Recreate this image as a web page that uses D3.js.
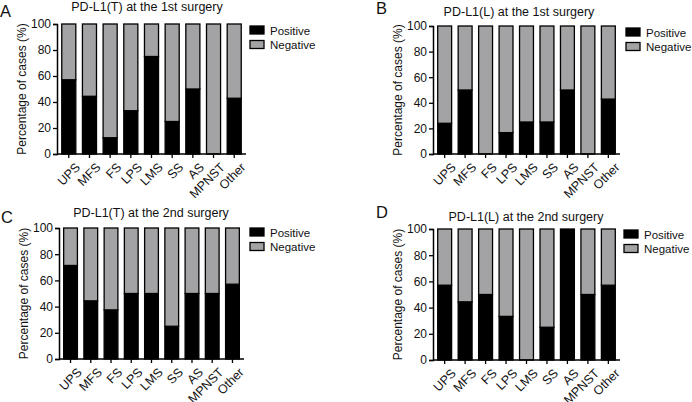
<!DOCTYPE html>
<html><head><meta charset="utf-8">
<script src="https://cdn.jsdelivr.net/npm/d3@7"></script>
<style>
html,body{margin:0;padding:0;background:#fff;}
text{font-family:"Liberation Sans",Arial,Helvetica,sans-serif;fill:#111;}
</style></head>
<body>
<svg id="chart" width="692" height="402"></svg>
<script>
// ---- data ----
const categories = ["UPS","MFS","FS","LPS","LMS","SS","AS","MPNST","Other"];
const positiveA = [57.1, 44.4, 12.5, 33.3, 75, 25, 50, 0, 42.9];
const positiveB = [24, 50, 0, 16.7, 25, 25, 50, 0, 42.9];
const positiveC = [71.4, 44.4, 37.5, 50, 50, 25, 50, 50, 57.1];
const positiveD = [57.1, 44.4, 50, 33.3, 0, 25, 100, 50, 57.1];
const titles = ["PD-L1(T) at the 1st surgery","PD-L1(L) at the 1st surgery","PD-L1(T) at the 2nd surgery","PD-L1(L) at the 2nd surgery"];
const letters = ["A","B","C","D"];
const seriesNames = ["Positive","Negative"];
const yTicks = [0,20,40,60,80,100];
const yLabel = "Percentage of cases (%)";

// ---- layout (positions only) ----
const layout = [
  {ax:57, xe:246, yt:24, yb:154, lx:0, ly:17, tx:147, ty:11, legX:250, legY:30},
  {ax:433, xe:620, yt:26, yb:154, lx:376, ly:14, tx:519, ty:16, legX:626, legY:32},
  {ax:59, xe:244, yt:228, yb:359, lx:1, ly:223, tx:151, ty:217, legX:250, legY:232},
  {ax:433, xe:620, yt:229, yb:360, lx:376, ly:218, tx:526, ty:221, legX:624, legY:234}
];
const allPositive = [positiveA, positiveB, positiveC, positiveD];
const colors = {Positive:"#000000", Negative:"#a3a3a5"};

const svg = d3.select("#chart");

allPositive.forEach((pos, i) => {
  const L = layout[i];
  const rows = categories.map((c, j) => ({cat:c, Positive:pos[j], Negative:100 - pos[j]}));
  const stack = d3.stack().keys(seriesNames)(rows);
  const x = d3.scaleBand().domain(categories).range([L.ax, L.xe]).paddingInner(0.32).paddingOuter(0.23);
  const y = d3.scaleLinear().domain([0,100]).range([L.yb, L.yt]);
  const g = svg.append("g");

  // bars
  stack.forEach(s => {
    g.append("g").selectAll("rect").data(s).join("rect")
      .attr("x", d => x(d.data.cat))
      .attr("width", x.bandwidth())
      .attr("y", d => y(d[1]))
      .attr("height", d => Math.max(0, y(d[0]) - y(d[1])))
      .attr("fill", colors[s.key])
      .attr("stroke", "#000")
      .attr("stroke-width", 1.3);
  });

  // y axis
  const ya = g.append("g").attr("transform", `translate(${L.ax},0)`)
    .call(d3.axisLeft(y).tickValues(yTicks).tickSize(4).tickPadding(2));
  ya.select(".domain").attr("stroke", "#000").attr("stroke-width", 1.5);
  ya.selectAll(".tick line").attr("stroke", "#000").attr("stroke-width", 1.3);
  ya.selectAll("text").attr("font-size", 12).attr("fill", "#111");

  // x axis
  const xa = g.append("g").attr("transform", `translate(0,${L.yb})`)
    .call(d3.axisBottom(x).tickSize(4).tickSizeOuter(0));
  xa.select(".domain").attr("stroke", "#000").attr("stroke-width", 1.5)
    .attr("d", `M${L.ax},0H${L.xe}`);
  xa.selectAll(".tick line").attr("stroke", "#000").attr("stroke-width", 1.3);
  xa.selectAll("text").attr("font-size", 12.5).attr("fill", "#111")
    .attr("text-anchor", "end")
    .attr("dy", "0.35em")
    .attr("transform", "translate(4,6) rotate(-45)");

  // y label
  g.append("text")
    .attr("transform", `translate(${L.ax - 31},${(L.yt + L.yb) / 2}) rotate(-90)`)
    .attr("text-anchor", "middle")
    .attr("font-size", 12)
    .text(yLabel);

  // title
  g.append("text").attr("x", L.tx).attr("y", L.ty)
    .attr("text-anchor", "middle").attr("font-size", 12.5).text(titles[i]);

  // panel letter
  g.append("text").attr("x", L.lx).attr("y", L.ly)
    .attr("font-size", 16.5).text(letters[i]);

  // legend
  seriesNames.forEach((k, j) => {
    g.append("rect").attr("x", L.legX).attr("y", L.legY - 4 + j * 14.5)
      .attr("width", 14).attr("height", 8)
      .attr("fill", colors[k]).attr("stroke", "#000").attr("stroke-width", 1.3);
    g.append("text").attr("x", L.legX + 20).attr("y", L.legY + 4.5 + j * 14.5)
      .attr("font-size", 11.5).text(k);
  });
});
</script>
</body></html>
